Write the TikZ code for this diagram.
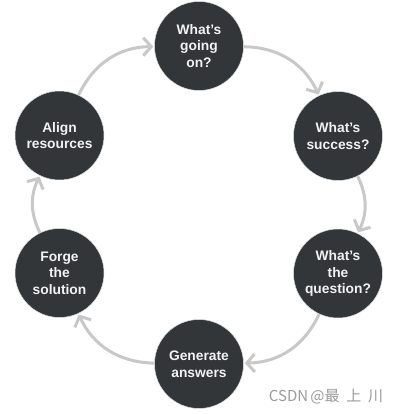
\documentclass[tikz,border=0pt]{standalone}
\usepackage{fontspec}
\setmainfont{Liberation Sans}
\newfontfamily\cjkfont{Noto Sans CJK SC}
\usetikzlibrary{arrows.meta}
\definecolor{disc}{HTML}{323639}
\definecolor{ring}{HTML}{C8C8C8}
\definecolor{mark}{HTML}{9A9A9A}
\tikzset{
  stage/.style={circle, fill=disc, draw=ring!60, line width=0.5pt, minimum size=89pt, inner sep=0pt,
    text=white!95!black, align=center, font=\fontsize{13.8pt}{16.5pt}\selectfont\bfseries},
  flow/.style={draw=ring, line width=3pt, -{Straight Barb[length=8pt,width=18pt]}, shorten >=1pt}
}
\begin{document}
\begin{tikzpicture}[x=1pt,y=-1pt]
\useasboundingbox (0,0) rectangle (402,414);
\node[stage] (n1) at (199,46) {What’s\\going\\on?};
\node[stage] (n2) at (338,136) {What’s\\success?};
\node[stage] (n3) at (338,273.5) {What’s\\the\\question?};
\node[stage] (n4) at (199,364) {Generate\\answers};
\node[stage] (n5) at (59.5,273) {Forge\\the\\solution};
\node[stage] (n6) at (59.5,135.5) {Align\\resources};
\draw[flow] (n1) to[bend left=32] (n2);
\draw[flow] (n2) to[bend left=26] (n3);
\draw[flow] (n3) to[bend left=32] (n4);
\draw[flow] (n4) to[bend left=32] (n5);
\draw[flow] (n5) to[bend left=26] (n6);
\draw[flow] (n6) to[bend left=32] (n1);
\node[text=mark, font=\cjkfont\fontsize{15pt}{17pt}\selectfont, anchor=center, inner sep=0pt] (wm) at (326,397) {CSDN\hspace{0.15em}@最\hspace{0.45em}上\hspace{0.45em}川};
\end{tikzpicture}
\end{document}
